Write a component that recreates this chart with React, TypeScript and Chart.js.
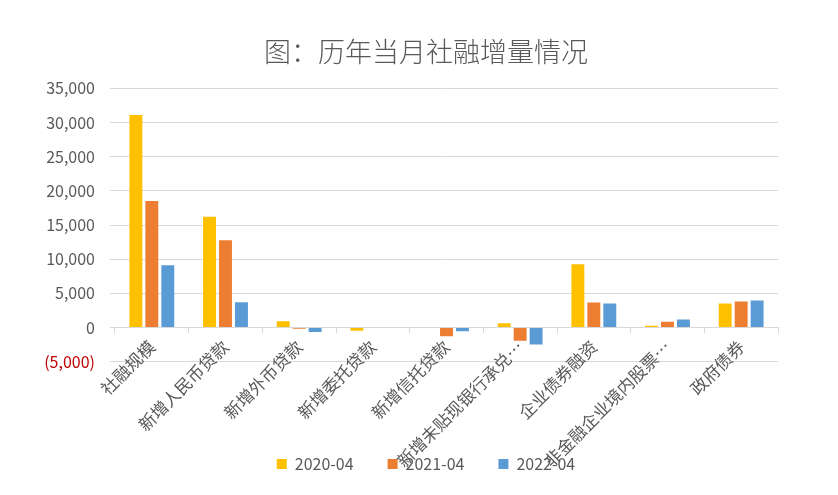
import React, { useEffect, useRef } from "react";
import { Chart, registerables } from "chart.js";

Chart.register(...registerables);

const categories = [
  "社融规模",
  "新增人民币贷款",
  "新增外币贷款",
  "新增委托贷款",
  "新增信托贷款",
  "新增未贴现银行承兑…",
  "企业债券融资",
  "非金融企业境内股票…",
  "政府债券",
];
const seriesNames = ["2020-04", "2021-04", "2022-04"];
const s2020 = [31100, 16200, 900, -500, 0, 600, 9250, 250, 3500];
const s2021 = [18500, 12750, -200, 0, -1300, -1950, 3650, 850, 3800];
const s2022 = [9100, 3700, -650, 0, -550, -2500, 3500, 1150, 3950];
const colors = ["#FFC000", "#ED7D31", "#5B9BD5"];
const yMin = -5000;
const yMax = 35000;
const yStep = 5000;

const FONT = "'Noto Sans CJK SC', 'Noto Sans', sans-serif";

export default function App() {
  const ref = useRef<HTMLCanvasElement | null>(null);
  useEffect(() => {
    document.body.style.margin = "0";
    const canvas = ref.current;
    if (!canvas) return;
    const chart = new Chart(canvas, {
      type: "bar",
      data: {
        labels: categories,
        datasets: [s2020, s2021, s2022].map((d, i) => ({
          label: seriesNames[i],
          data: d,
          backgroundColor: colors[i],
          borderWidth: 0,
          categoryPercentage: 0.65,
          barPercentage: 0.81,
          yAxisID: "y",
        })),
      },
      options: {
        animation: false,
        responsive: false,
        maintainAspectRatio: false,
        layout: { padding: { left: 14, right: 0, top: 36, bottom: 13 } },
        plugins: {
          title: {
            display: true,
            text: "图：历年当月社融增量情况",
            color: "#595959",
            font: { family: FONT, size: 27, weight: 300 },
            padding: { top: 0, bottom: 20 },
          },
          legend: {
            position: "bottom",
            title: { display: true, text: "", padding: { top: 46, bottom: 0 } },
            labels: {
              boxWidth: 10,
              boxHeight: 10,
              padding: 34,
              color: "#595959",
              font: { family: FONT, size: 16 },
            },
          },
          tooltip: { enabled: false },
        },
        scales: {
          x: {
            position: { y: 0 } as any,
            grid: {
              offset: true,
              drawOnChartArea: false,
              tickLength: 5,
              color: "#d9d9d9",
            },
            border: { color: "#d9d9d9" },
            ticks: {
              autoSkip: false,
              minRotation: 45,
              maxRotation: 45,
              padding: 4,
              color: "#595959",
              font: { family: FONT, size: 17 },
            },
          },
          y: {
            position: "left",
            min: yMin,
            max: yMax,
            afterFit: (s: any) => {
              s.width = 101;
            },
            border: { display: false },
            grid: { color: "#d9d9d9", tickLength: 5 },
            ticks: {
              stepSize: yStep,
              padding: 15,
              font: { family: FONT, size: 16 },
              color: (ctx: any) => (ctx.tick && ctx.tick.value < 0 ? "#C00000" : "#595959"),
              callback: (v: any) => {
                const n = Number(v);
                const s = Math.abs(n).toLocaleString("en-US");
                return n < 0 ? `(${s})` : s;
              },
            },
          },
          yPad: {
            position: "right",
            min: yMin,
            max: yMax,
            afterFit: (s: any) => {
              s.width = 60;
            },
            border: { display: false },
            grid: { drawOnChartArea: false, drawTicks: false, display: false },
            ticks: { display: false },
          },
        },
      },
    });
    return () => chart.destroy();
  }, []);
  return (
    <div style={{ width: 838, height: 495, background: "#fff" }}>
      <canvas ref={ref} width={838} height={495} style={{ width: 838, height: 495 }} />
    </div>
  );
}
